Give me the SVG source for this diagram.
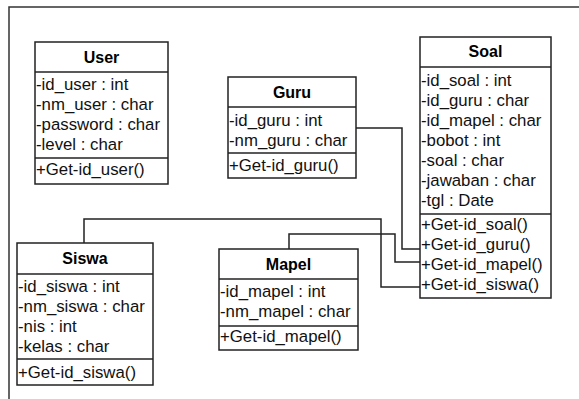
<svg xmlns="http://www.w3.org/2000/svg" width="579" height="399" viewBox="0 0 579 399">
<style>
.frame{fill:none;stroke:#333;stroke-width:1.5}
.box{fill:#fff;stroke:#222;stroke-width:1.5}
.sep{stroke:#222;stroke-width:1.5}
.title{font-family:"Liberation Sans",Arial,sans-serif;font-size:16px;font-weight:bold;fill:#000;text-anchor:middle}
.attr{font-family:"Liberation Sans",Arial,sans-serif;font-size:16.8px;fill:#111}
.conn{fill:none;stroke:#222;stroke-width:1.5}
</style>
<rect width="579" height="399" fill="#fff"/>
<rect class="frame" x="9" y="7" width="600" height="420"/>
<g id="connectors">
<polyline class="conn" points="356,128 402,128 402,249 420,249"/>
<polyline class="conn" points="289,249 289,234 395,234 395,262 420,262"/>
<polyline class="conn" points="84,243 84,219 381,219 381,287 420,287"/>
</g>
<g id="user">
<rect class="box" x="35" y="42" width="133" height="142"/>
<line class="sep" x1="35" y1="72" x2="168" y2="72"/>
<line class="sep" x1="35" y1="158" x2="168" y2="158"/>
<text class="title" x="101.5" y="62.5">User</text>
<text class="attr" x="36" y="90">-id_user : int</text>
<text class="attr" x="36" y="110">-nm_user : char</text>
<text class="attr" x="36" y="130">-password : char</text>
<text class="attr" x="36" y="150">-level : char</text>
<text class="attr" x="36" y="175">+Get-id_user()</text>
</g>
<g id="guru">
<rect class="box" x="228" y="77" width="128" height="101"/>
<line class="sep" x1="228" y1="107" x2="356" y2="107"/>
<line class="sep" x1="228" y1="153" x2="356" y2="153"/>
<text class="title" x="292" y="97.5">Guru</text>
<text class="attr" x="229" y="126">-id_guru : int</text>
<text class="attr" x="229" y="146">-nm_guru : char</text>
<text class="attr" x="229" y="171">+Get-id_guru()</text>
</g>
<g id="soal">
<rect class="box" x="420" y="37" width="131" height="261"/>
<line class="sep" x1="420" y1="67" x2="551" y2="67"/>
<line class="sep" x1="420" y1="214" x2="551" y2="214"/>
<text class="title" x="485.5" y="57">Soal</text>
<text class="attr" x="421" y="85.5">-id_soal : int</text>
<text class="attr" x="421" y="105.5">-id_guru : char</text>
<text class="attr" x="421" y="125.5">-id_mapel : char</text>
<text class="attr" x="421" y="145.5">-bobot : int</text>
<text class="attr" x="421" y="165.5">-soal : char</text>
<text class="attr" x="421" y="185.5">-jawaban : char</text>
<text class="attr" x="421" y="205.5">-tgl : Date</text>
<text class="attr" x="421" y="230">+Get-id_soal()</text>
<text class="attr" x="421" y="250">+Get-id_guru()</text>
<text class="attr" x="421" y="270">+Get-id_mapel()</text>
<text class="attr" x="421" y="290">+Get-id_siswa()</text>
</g>
<g id="siswa">
<rect class="box" x="17" y="243" width="136" height="142"/>
<line class="sep" x1="17" y1="274" x2="153" y2="274"/>
<line class="sep" x1="17" y1="359" x2="153" y2="359"/>
<text class="title" x="85" y="264">Siswa</text>
<text class="attr" x="18" y="292">-id_siswa : int</text>
<text class="attr" x="18" y="312">-nm_siswa : char</text>
<text class="attr" x="18" y="332">-nis : int</text>
<text class="attr" x="18" y="352">-kelas : char</text>
<text class="attr" x="18" y="378">+Get-id_siswa()</text>
</g>
<g id="mapel">
<rect class="box" x="219" y="249" width="139" height="101"/>
<line class="sep" x1="219" y1="279" x2="358" y2="279"/>
<line class="sep" x1="219" y1="326" x2="358" y2="326"/>
<text class="title" x="288.5" y="269.5">Mapel</text>
<text class="attr" x="220" y="297">-id_mapel : int</text>
<text class="attr" x="220" y="317">-nm_mapel : char</text>
<text class="attr" x="220" y="342">+Get-id_mapel()</text>
</g>
</svg>
